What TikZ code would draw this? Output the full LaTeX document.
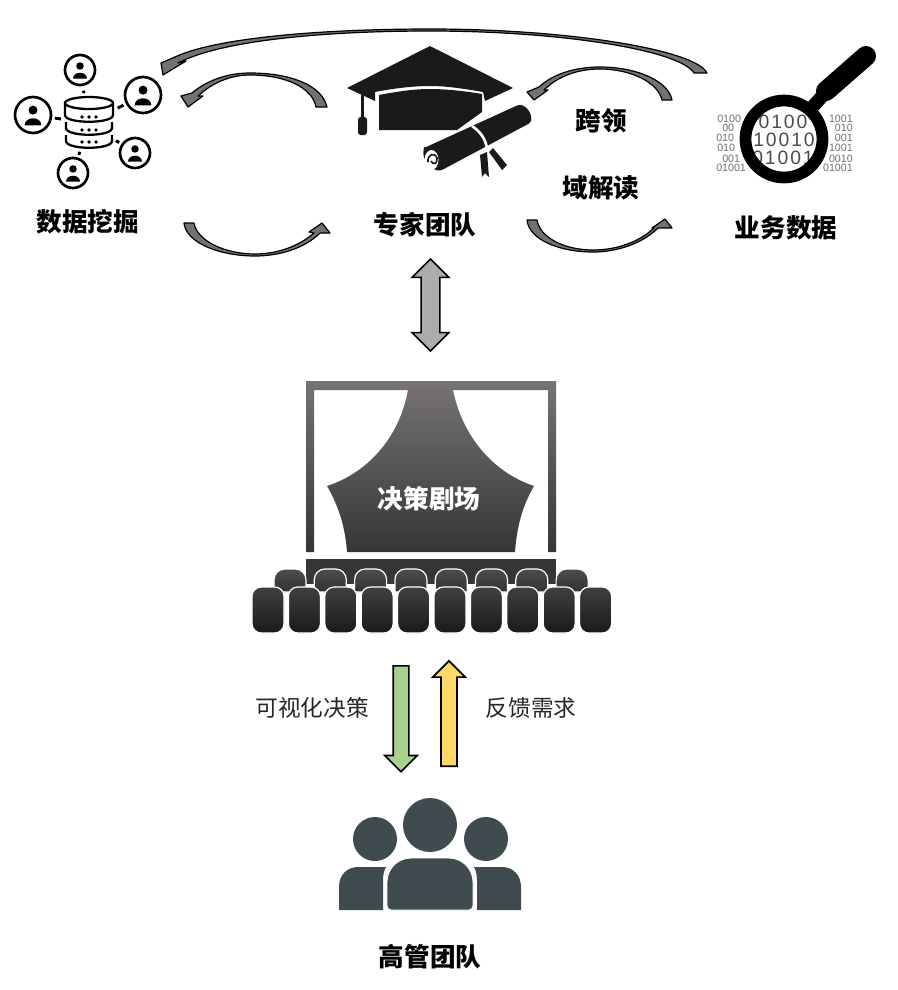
\documentclass[tikz,border=0pt]{standalone}
\usepackage{fontspec}
\setmainfont{Noto Sans CJK SC}
\newfontfamily\binfont{Liberation Sans}
\newfontfamily\binwide[LetterSpace=10]{Liberation Sans}
\usetikzlibrary{shapes.arrows}

\definecolor{bendgray}{HTML}{767171}
\definecolor{dblgray}{HTML}{AEABAB}
\definecolor{downgreen}{HTML}{A9D18E}
\definecolor{upyellow}{HTML}{FFD966}
\definecolor{peoplegray}{HTML}{3F4B4E}
\definecolor{icondark}{HTML}{1A1A1A}
\definecolor{bingray}{HTML}{6F6F6F}
\definecolor{stagetop}{HTML}{777373}
\definecolor{stagelow}{HTML}{363636}

\tikzset{
    bendarrow/.style={draw=black, fill=bendgray, line width=0.9pt, line join=round},
    bigtitle/.style={font=\fontsize{19.2}{23}\selectfont\bfseries},
    thintitle/.style={font=\fontsize{17}{21}\selectfont, text=black!85},
    usercircle/.style={draw=black, circle, line width=2pt, inner sep=0pt},
    blockarrow/.style={draw=black, line width=1.2pt, inner xsep=0pt, line join=miter},
    binsmall/.style={font=\binfont\fontsize{8}{8}\selectfont, text=bingray, inner sep=0pt},
    binlarge/.style={font=\binwide\fontsize{14.5}{15}\selectfont, text=black!70, inner sep=0pt},
}

\begin{document}
\begin{tikzpicture}[x=0.75pt, y=-0.75pt]
    \useasboundingbox (0, 0) rectangle (898, 990);

    % data mining
    \node[circle, inner sep=0pt, minimum size=42pt] (db) at (89, 123) {};
    \foreach \nm/\ux/\uy/\ur/\sa/\sb in {ua/80/70/15/3.5/1.5, ub/33/115/18/2/0, uc/143/95/18/2/3, ud/135/153/15/2/3, ue/73/173/15/2/1.5} {
        \node[usercircle, minimum size=2*\ur*0.75pt] (\nm) at (\ux, \uy) {};
        \begin{scope}[shift={(\ux, \uy)}, scale=\ur]
            \fill[black] (0, -0.27) circle (0.25);
            \fill[black] (-0.47, 0.58) .. controls (-0.45, 0.05) and (0.45, 0.05) .. (0.47, 0.58) -- cycle;
        \end{scope}
        \draw[line width=2.2pt, shorten <=\sa pt, shorten >=\sb pt] (\nm) -- (db);
    }
    \begin{scope}[line width=1.7pt, black]
        \draw (89, 103) ellipse (24 and 6);
        \draw (65, 103) -- (65, 115) .. controls (65, 124) and (113, 124) .. (113, 115) -- (113, 103);
        \draw (66, 122) -- (66, 128) .. controls (66, 137) and (112, 137) .. (112, 128) -- (112, 122);
        \draw (66, 135) -- (66, 141) .. controls (66, 150) and (112, 150) .. (112, 141) -- (112, 135);
        \foreach \ry in {117, 130, 142} {
            \foreach \rx in {82, 89, 96} {
                \fill (\rx, \ry) circle (1.8);
            }
        }
    \end{scope}

    % cap and diploma
    \begin{scope}[icondark]
        \fill (430, 46) -- (513, 88) -- (485, 101) -- (483, 92) .. controls (460, 88) and (445, 86) .. (430, 86)
            .. controls (415, 86) and (395, 88) .. (375, 92) -- (375, 101) -- (347, 88) -- cycle;
        \fill (379, 95) .. controls (400, 91) and (415, 89) .. (430, 89) .. controls (445, 89) and (465, 91) .. (482, 94)
            -- (482, 112) -- (457, 130) -- (379, 130) -- cycle;
        \fill (360.5, 95) rectangle (363.5, 118);
        \fill[rounded corners=2] (358, 117) rectangle (367, 135);
        \fill[rounded corners=1] (424, 148) -- (516, 106) .. controls (525, 102) and (534, 115) .. (530, 123)
            -- (442, 170) .. controls (432, 172) and (421, 160) .. (424, 148) -- cycle;
        \fill[white] (431.5, 160) ellipse (7 and 10);
        \draw[line width=1.2pt] (428, 162) .. controls (427, 154) and (435, 152) .. (437, 158)
            .. controls (438, 163) and (433, 166) .. (431, 161);
        \draw[white, line width=2pt] (472, 126) .. controls (481, 132) and (486, 140) .. (487, 149);
        \fill (480, 155) -- (482, 177) -- (485, 173) -- (489, 177) -- (487, 152) -- cycle;
        \fill (489, 152) -- (502, 170) -- (507, 165) -- (493, 148) -- cycle;
    \end{scope}

    % business data
    \foreach \ry/\lx/\ltxt/\rtxt in {119/717/0100/1001, 128/722/00/010, 138/716/010/001, 148/717/010/1001, 159/722/001/0010, 168/716/01001/01001} {
        \node[binsmall, anchor=west] (bl\ry) at (\lx, \ry) {\ltxt};
        \node[binsmall, anchor=east] (br\ry) at (853, \ry) {\rtxt};
    }
    \begin{scope}
        \clip (784, 139) circle (36);
        \node[binlarge] (bt1) at (783, 122) {0100};
        \node[binlarge] (bt2) at (784, 140) {10010};
        \node[binlarge] (bt3) at (783, 158) {01001};
    \end{scope}
    \draw[black, line width=8.8pt] (784, 139) circle (38.5);
    \draw[black, line width=10pt] (808, 112) -- (825, 93);
    \draw[black, line width=15pt, line cap=round] (826, 91) -- (866, 56);

    % bent arrows
    \path[bendarrow] (707, 73) .. controls (696, 50) and (570, 29) .. (430, 29) .. controls (320, 29) and (215, 38) .. (175, 57)
        -- (161, 63) -- (163, 75) -- (186, 61) -- (178, 63) .. controls (220, 41) and (320, 31) .. (430, 31)
        .. controls (560, 31) and (680, 50) .. (694, 73) -- cycle;
    \path[bendarrow] (327, 107) .. controls (322, 85) and (290, 73) .. (250, 73) .. controls (225, 73) and (205, 82) .. (192, 93)
        -- (181, 96) -- (188, 107) -- (203, 96) -- (198, 96) .. controls (212, 83) and (230, 75) .. (250, 75)
        .. controls (285, 75) and (312, 87) .. (316, 107) -- cycle;
    \path[bendarrow] (184, 223) .. controls (186, 243) and (220, 256) .. (255, 256) .. controls (280, 256) and (305, 248) .. (320, 233)
        -- (330, 233) -- (322, 223) -- (309, 232) -- (314, 233) .. controls (298, 247) and (276, 254) .. (255, 254)
        .. controls (225, 254) and (197, 241) .. (194, 223) -- cycle;
    \path[bendarrow] (672, 100) .. controls (668, 80) and (635, 67) .. (600, 67) .. controls (575, 67) and (553, 74) .. (539, 87)
        -- (527, 92) -- (534, 100) -- (548, 90) -- (544, 90) .. controls (558, 76) and (578, 69) .. (600, 69)
        .. controls (630, 69) and (658, 82) .. (662, 100) -- cycle;
    \path[bendarrow] (527, 220) .. controls (529, 240) and (560, 252) .. (593, 252) .. controls (618, 252) and (643, 243) .. (658, 228)
        -- (672, 228) -- (665, 219) -- (652, 228) -- (654, 228) .. controls (638, 243) and (615, 250) .. (593, 250)
        .. controls (565, 250) and (540, 238) .. (537, 220) -- cycle;

    % theatre
    \shade[top color=stagetop, bottom color=stagelow] (306, 381) -- (556, 381) -- (556, 552) -- (548, 552) -- (548, 390) -- (453, 390)
        .. controls (462, 435) and (492, 472) .. (534, 486) .. controls (523, 505) and (517, 525) .. (515, 552)
        -- (347, 552) .. controls (345, 525) and (338, 505) .. (327, 486) .. controls (370, 472) and (400, 435) .. (408, 390)
        -- (314, 390) -- (314, 552) -- (306, 552) -- cycle;
    \fill[stagelow] (306, 559) rectangle (556, 584);
    \foreach \i in {0,...,7} {
        \path[draw=white, line width=0.9pt, top color=black!70, bottom color=black!80] ({274+40.3*\i}, 592)
            [rounded corners=8] -- ({274+40.3*\i}, 569) -- ({306+40.3*\i}, 569) [sharp corners] -- ({306+40.3*\i}, 592) -- cycle;
    }
    \foreach \i in {0,...,9} {
        \path[draw=white, line width=0.9pt, rounded corners=7, top color=black!75, bottom color=black!90]
            ({252+36.4*\i}, 587) rectangle ({284+36.4*\i}, 633);
    }

    % block arrows
    \node[blockarrow, double arrow, fill=dblgray, rotate=90, minimum height=69pt, inner ysep=6.4pt,
        double arrow head extend=6.75pt, double arrow head indent=0pt] (ad) at (430.5, 305) {};
    \node[blockarrow, single arrow, fill=downgreen, rotate=-90, anchor=tail, minimum height=79.5pt, inner ysep=5.25pt,
        single arrow head extend=6.4pt, single arrow head indent=0pt] (ag) at (401, 665) {};
    \node[blockarrow, single arrow, fill=upyellow, rotate=90, anchor=tail, minimum height=79pt, inner ysep=5.4pt,
        single arrow head extend=6.2pt, single arrow head indent=0pt] (ay) at (449, 767) {};

    % management team
    \begin{scope}[peoplegray]
        \fill (430, 825) circle (27);
        \fill (375, 839) circle (22);
        \fill (486, 839) circle (22);
        \path[fill=peoplegray, draw=white, line width=0.7pt] (387, 885) [rounded corners=18] -- (387, 858) -- (473, 858) -- (473, 885)
            [rounded corners=3] -- (473, 910) -- (387, 910) -- cycle;
        \fill (383, 867) -- (358, 867) .. controls (347, 867) and (339, 875) .. (339, 887) -- (339, 910) -- (383, 910)
            -- (383, 880) .. controls (383, 875) and (384, 871) .. (386, 867) -- cycle;
        \fill (477, 867) -- (502, 867) .. controls (513, 867) and (521, 875) .. (521, 887) -- (521, 910) -- (477, 910)
            -- (477, 880) .. controls (477, 875) and (476, 871) .. (474, 867) -- cycle;
    \end{scope}

    % labels
    \node[bigtitle] (t1) at (88, 222) {数据挖掘};
    \node[bigtitle] (t2) at (425, 225) {专家团队};
    \node[bigtitle] (t3) at (601, 121) {跨领};
    \node[bigtitle] (t4) at (601, 188) {域解读};
    \node[bigtitle] (t5) at (786, 228) {业务数据};
    \node[bigtitle, text=white] (t6) at (429, 499) {决策剧场};
    \node[thintitle] (t7) at (312, 708) {可视化决策};
    \node[thintitle] (t8) at (531, 708) {反馈需求};
    \node[bigtitle] (t9) at (430, 957) {高管团队};
\end{tikzpicture}
\end{document}
